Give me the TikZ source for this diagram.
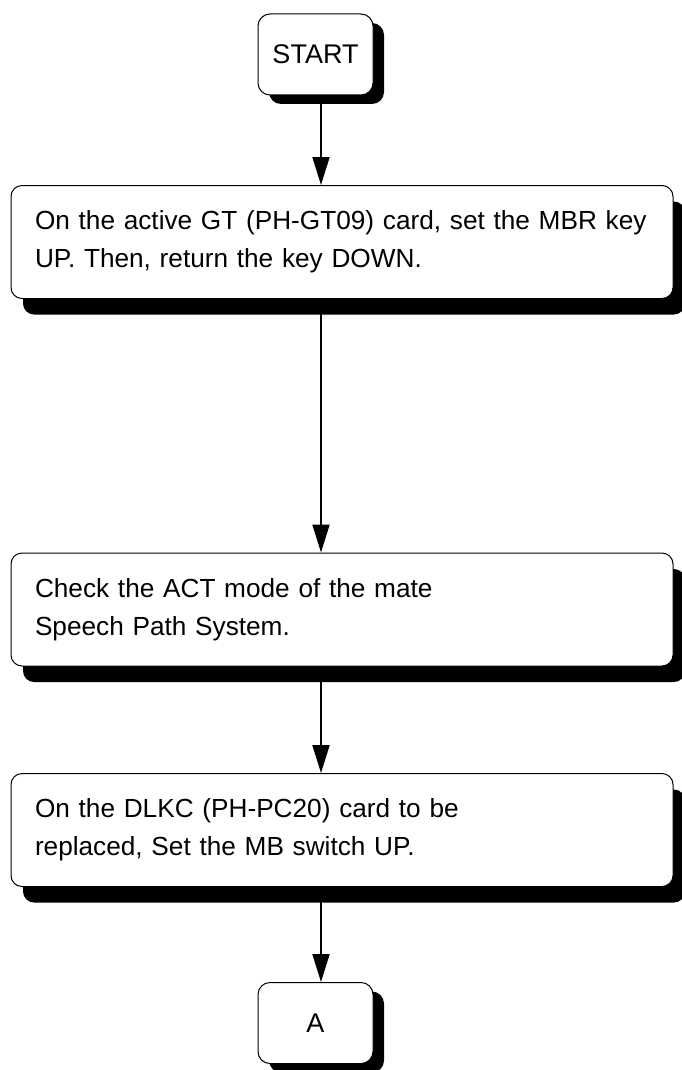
\documentclass[tikz,border=0pt]{standalone}
\usepackage{fontspec}
\setmainfont{Liberation Sans}
\usetikzlibrary{arrows.meta,shadows}
\begin{document}
\begin{tikzpicture}[x=1pt,y=-1pt,
  box/.style={draw, line width=1pt, rounded corners=11pt, fill=white,
    drop shadow={shadow xshift=12pt, shadow yshift=-16pt, fill=black, opacity=1},
    align=left, text width=614pt, minimum height=113pt, inner xsep=24pt, inner ysep=0pt,
    font=\fontsize{26.2}{38}\selectfont},
  term/.style={draw, line width=1pt, rounded corners=12pt, fill=white,
    drop shadow={shadow xshift=11pt, shadow yshift=-9pt, fill=black, opacity=1},
    minimum width=115pt, minimum height=81pt, inner sep=0pt,
    font=\fontsize{27}{30}\selectfont},
  arr/.style={line width=2pt, -{Triangle[width=17pt,length=28pt]}}]
\useasboundingbox (0,0) rectangle (681,1070);
\coordinate (ax) at (321,0);
\node[term] (start) at (315.5,54.5) {START};
\node[box] (b1) at (342,242) {On the active GT (PH-GT09) card, set the MBR key\\UP. Then, return the key DOWN.};
\node[box] (b2) at (342,609.5) {Check the ACT mode of the mate\\Speech Path System.};
\node[box] (b3) at (342,830) {On the DLKC (PH-PC20) card to be\\replaced, Set the MB switch UP.};
\node[term] (a) at (315.5,1023) {A};
\draw[arr] (start.south -| ax) -- (b1.north -| ax);
\draw[arr] (b1.south -| ax) -- (b2.north -| ax);
\draw[arr] (b2.south -| ax) -- (b3.north -| ax);
\draw[arr] (b3.south -| ax) -- (a.north -| ax);
\end{tikzpicture}
\end{document}
